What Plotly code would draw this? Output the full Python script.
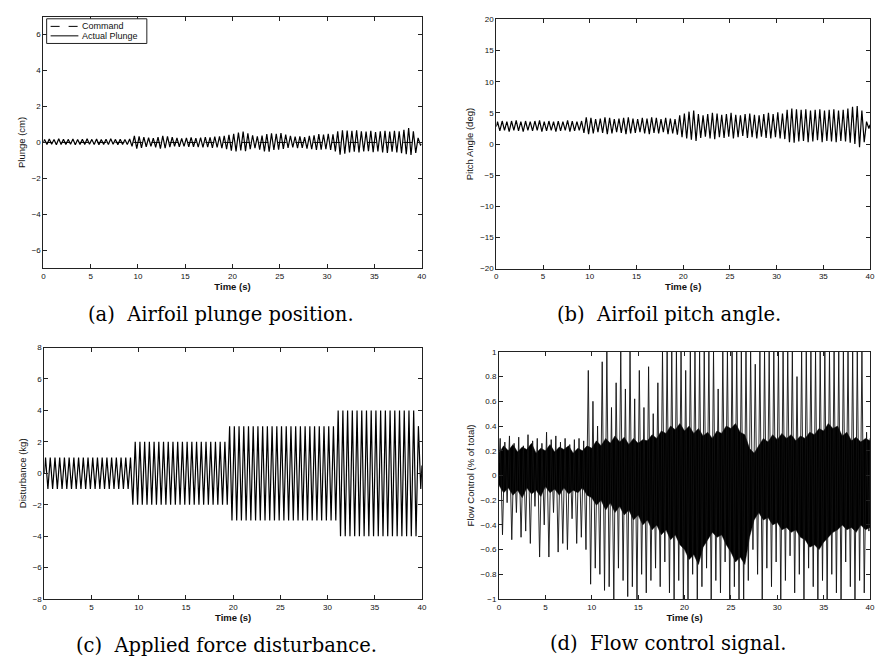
import numpy as np
import plotly.graph_objects as go

# ---------------------------------------------------------------------------
# Recorded time histories (2 Hz disturbance, 40 s run).
# Each oscillating signal is stored as its per-cycle peak and trough values;
# successive extrema are half a cycle apart.
# ---------------------------------------------------------------------------
HALF_CYCLE = 0.25          # s between successive extrema
FIRST_EXTREMUM = 0.125     # s, time of the first peak
T_END = 40.0

# (a) Airfoil plunge position (cm)
plunge_start, plunge_end = 0.02, -0.10
plunge_peaks = [
    0.17, 0.19, 0.16, 0.20, 0.18, 0.17, 0.19, 0.16, 0.18, 0.20,
    0.17, 0.19, 0.16, 0.18, 0.20, 0.17, 0.18, 0.16, 0.19,
    0.36, 0.34, 0.30, 0.26, 0.24, 0.30, 0.36, 0.34, 0.30, 0.25,
    0.22, 0.25, 0.28, 0.24, 0.27, 0.30, 0.28, 0.32, 0.34, 0.36,
    0.42, 0.48, 0.55, 0.60, 0.50, 0.40, 0.34, 0.38, 0.46, 0.50,
    0.48, 0.52, 0.44, 0.36, 0.32, 0.34, 0.30, 0.36, 0.40, 0.46,
    0.44, 0.48, 0.45,
    0.62, 0.68, 0.66, 0.64, 0.68, 0.62, 0.60, 0.64, 0.58, 0.62,
    0.65, 0.60, 0.64, 0.62, 0.70, 0.80, 0.62,
    0.25,
]
plunge_troughs = [
    -0.12, -0.10, -0.13, -0.11, -0.12, -0.10, -0.13, -0.12, -0.11, -0.10,
    -0.12, -0.13, -0.11, -0.12, -0.10, -0.13, -0.12, -0.11, -0.22,
    -0.34, -0.30, -0.24, -0.22, -0.28, -0.34, -0.32, -0.26, -0.22, -0.24,
    -0.22, -0.25, -0.24, -0.26, -0.28, -0.26, -0.30, -0.28, -0.32, -0.38,
    -0.46, -0.50, -0.44, -0.48, -0.38, -0.32, -0.40, -0.50, -0.52, -0.42,
    -0.40, -0.36, -0.30, -0.28, -0.32, -0.30, -0.34, -0.38, -0.42, -0.40,
    -0.38, -0.42, -0.50,
    -0.68, -0.62, -0.55, -0.52, -0.56, -0.50, -0.48, -0.54, -0.50, -0.56,
    -0.58, -0.52, -0.56, -0.60, -0.66, -0.70, -0.58,
    -0.15,
]
command_t = [0.0, 40.0]
command_vals = [0.0, 0.0]

# (b) Airfoil pitch angle (deg)
pitch_start, pitch_end = 2.8, 3.1
pitch_peaks = [
    3.6, 3.7, 3.6, 3.7, 3.8, 3.6, 3.7, 3.6, 3.7, 3.8,
    3.6, 3.7, 3.6, 3.7, 3.6, 3.8, 3.7, 3.6, 3.7,
    4.3, 4.2, 4.0, 4.1, 4.3, 4.2, 4.0, 4.1, 4.2, 4.3,
    4.1, 4.0, 4.2, 4.1, 4.3, 4.2, 4.0, 4.2, 4.1, 4.0,
    4.6, 4.9, 5.2, 5.4, 4.8, 4.6, 4.8, 5.0, 4.9, 4.7,
    4.8, 5.0, 4.7, 4.6, 4.8, 4.9, 4.7, 4.6, 4.8, 5.0,
    4.8, 5.1, 4.9,
    5.5, 5.7, 5.6, 5.5, 5.6, 5.4, 5.5, 5.6, 5.4, 5.5,
    5.6, 5.4, 5.5, 5.7, 6.0, 6.1, 5.4,
    3.6,
]
pitch_troughs = [
    2.1, 2.2, 2.0, 2.2, 2.1, 2.0, 2.2, 2.1, 2.2, 2.0,
    2.1, 2.2, 2.0, 2.1, 2.2, 2.0, 2.1, 2.2, 1.8,
    1.6, 1.7, 1.9, 1.8, 1.6, 1.7, 1.9, 1.8, 1.6, 1.7,
    1.8, 1.9, 1.7, 1.6, 1.8, 1.7, 1.9, 1.6, 1.7, 1.5,
    1.1, 0.9, 0.7, 0.5, 1.0, 1.2, 0.9, 0.8, 1.1, 1.0,
    1.2, 0.9, 1.1, 1.3, 1.0, 1.1, 0.9, 1.2, 1.0, 0.9,
    1.1, 0.9, 0.8,
    0.3, 0.2, 0.4, 0.5, 0.3, 0.4, 0.6, 0.3, 0.5, 0.4,
    0.3, 0.5, 0.4, 0.2, 0.0, -0.5, 0.3,
    2.5,
]

# (c) Applied force disturbance (kg)
dist_start, dist_end = 0.0, 0.5
dist_peaks = [
    1, 1, 1, 1, 1, 1, 1, 1, 1, 1,
    1, 1, 1, 1, 1, 1, 1, 1, 1,
    2, 2, 2, 2, 2, 2, 2, 2, 2, 2,
    2, 2, 2, 2, 2, 2, 2, 2, 2, 2,
    3, 3, 3, 3, 3, 3, 3, 3, 3, 3,
    3, 3, 3, 3, 3, 3, 3, 3, 3, 3,
    3, 3, 3,
    4, 4, 4, 4, 4, 4, 4, 4, 4, 4,
    4, 4, 4, 4, 4, 4, 4,
    3,
]
dist_troughs = [
    -1, -1, -1, -1, -1, -1, -1, -1, -1, -1,
    -1, -1, -1, -1, -1, -1, -1, -1, -2,
    -2, -2, -2, -2, -2, -2, -2, -2, -2, -2,
    -2, -2, -2, -2, -2, -2, -2, -2, -2, -2,
    -3, -3, -3, -3, -3, -3, -3, -3, -3, -3,
    -3, -3, -3, -3, -3, -3, -3, -3, -3, -3,
    -3, -3, -3,
    -4, -4, -4, -4, -4, -4, -4, -4, -4, -4,
    -4, -4, -4, -4, -4, -4, -4,
    -1,
]

# (d) Flow control signal (fraction of total), saturating at +/-1
flow_start, flow_end = 0.10, 0.30
flow_up = [
    0.30, 0.27, 0.32, 0.26, 0.31, 0.24, 0.33, 0.28, 0.30, 0.26,
    0.35, 0.29, 0.32, 0.27, 0.30, 0.25, 0.29, 0.30, 0.28,
    0.85, 0.60, 0.40, 0.92, 1.00, 0.55, 0.75, 1.00, 0.70, 1.00,
    0.62, 0.85, 0.55, 0.88, 0.50,
    0.75, 1.00, 1.00, 1.00, 1.00, 1.00, 0.85, 1.00, 1.00, 1.00,
    1.00, 1.00, 1.00, 0.70, 1.00, 1.00, 1.00, 1.00, 1.00, 1.00,
    1.00, 0.90, 1.00, 1.00, 1.00, 1.00, 1.00, 1.00, 1.00, 1.00,
    0.80, 1.00, 1.00, 1.00, 1.00, 1.00, 1.00, 1.00, 1.00, 1.00,
    1.00, 1.00, 1.00, 1.00, 1.00, 0.35,
]
flow_down = [
    -0.48, -0.22, -0.52, -0.30, -0.50, -0.45, -0.55, -0.25, -0.66, -0.40,
    -0.66, -0.30, -0.62, -0.55, -0.60, -0.35, -0.55, -0.50, -0.60,
    -0.88, -0.75, -0.80, -0.93, -0.90, -1.00, -0.75, -0.85, -0.98, -0.90,
    -1.00, -0.80, -0.95, -0.85, -0.75,
    -0.90, -0.70, -0.95, -1.00, -0.85, -1.00, -1.00, -0.80, -1.00, -0.90,
    -0.75, -1.00, -0.85, -0.95, -0.70, -1.00, -0.90, -1.00, -1.00, -0.85,
    -0.60, -0.80, -1.00, -0.75, -0.90, -0.70, -1.00, -0.85, -0.65, -0.95,
    -0.80, -1.00, -0.75, -0.90, -1.00, -0.85, -1.00, -0.80, -0.95, -1.00,
    -0.70, -0.90, -1.00, -0.85, -0.95, -0.45,
]
# dense core of the flow control trace, sampled every half second
flow_band_t = [0.5 * i for i in range(81)]
flow_band_hi = [
    0.18, 0.24, 0.20, 0.25, 0.19, 0.23, 0.21, 0.26, 0.18, 0.22,
    0.20, 0.25, 0.19, 0.23, 0.21, 0.24, 0.18, 0.22, 0.20, 0.24,
    0.22, 0.28, 0.24, 0.30, 0.26, 0.32, 0.27, 0.31, 0.25, 0.30,
    0.26, 0.29, 0.28, 0.33, 0.30, 0.36, 0.34, 0.40, 0.37, 0.42,
    0.36, 0.40, 0.34, 0.38, 0.32, 0.35, 0.30, 0.36, 0.34, 0.40,
    0.38, 0.42, 0.35, 0.33, 0.22, 0.18, 0.24, 0.30, 0.27, 0.33,
    0.29, 0.34, 0.30, 0.33, 0.28, 0.32, 0.30, 0.35, 0.33, 0.38,
    0.36, 0.42, 0.38, 0.40, 0.32, 0.35, 0.28, 0.31, 0.27, 0.30,
    0.28,
]
flow_band_lo = [
    -0.08, -0.14, -0.10, -0.16, -0.12, -0.18, -0.10, -0.15, -0.12, -0.17,
    -0.09, -0.14, -0.11, -0.16, -0.10, -0.15, -0.12, -0.14, -0.10, -0.16,
    -0.18, -0.24, -0.20, -0.28, -0.22, -0.30, -0.25, -0.32, -0.28, -0.36,
    -0.32, -0.40, -0.36, -0.44, -0.40, -0.48, -0.44, -0.52, -0.48, -0.56,
    -0.60, -0.68, -0.64, -0.72, -0.58, -0.52, -0.46, -0.50, -0.48, -0.56,
    -0.62, -0.70, -0.66, -0.72, -0.50, -0.36, -0.30, -0.36, -0.34, -0.40,
    -0.38, -0.44, -0.42, -0.46, -0.44, -0.50, -0.52, -0.58, -0.56, -0.60,
    -0.54, -0.50, -0.46, -0.44, -0.40, -0.44, -0.42, -0.46, -0.40, -0.44,
    -0.42,
]

# Axis ticks
time_ticks = [0, 5, 10, 15, 20, 25, 30, 35, 40]
plunge_ticks = [-6, -4, -2, 0, 2, 4, 6]
pitch_ticks = [-20, -15, -10, -5, 0, 5, 10, 15, 20]
dist_ticks = [-8, -6, -4, -2, 0, 2, 4, 6, 8]
flow_ticks = [-1, -0.8, -0.6, -0.4, -0.2, 0, 0.2, 0.4, 0.6, 0.8, 1]
flow_tick_text = ["\u22121", "\u22120.8", "\u22120.6", "\u22120.4", "\u22120.2",
                  "0", "0.2", "0.4", "0.6", "0.8", "1"]

captions = [
    "(a)  Airfoil plunge position.",
    "(b)  Airfoil pitch angle.",
    "(c)  Applied force disturbance.",
    "(d)  Flow control signal.",
]


def extrema_trace(start, peaks, troughs, end):
    """Join start value, alternating peak/trough values and end value."""
    t = [0.0]
    v = [start]
    for i, (p, q) in enumerate(zip(peaks, troughs)):
        t += [FIRST_EXTREMUM + HALF_CYCLE * (2 * i), FIRST_EXTREMUM + HALF_CYCLE * (2 * i + 1)]
        v += [p, q]
    t.append(T_END)
    v.append(end)
    return t, v


LINE = dict(color="black", width=1.2)
fig = go.Figure()

# (a) plunge
fig.add_trace(go.Scatter(x=command_t, y=command_vals, mode="lines", name="Command",
                         line=dict(color="black", width=1, dash="dash"),
                         xaxis="x", yaxis="y"))
t, v = extrema_trace(plunge_start, plunge_peaks, plunge_troughs, plunge_end)
fig.add_trace(go.Scatter(x=t, y=v, mode="lines", name="Actual Plunge", line=LINE,
                         xaxis="x", yaxis="y"))

# (b) pitch
t, v = extrema_trace(pitch_start, pitch_peaks, pitch_troughs, pitch_end)
fig.add_trace(go.Scatter(x=t, y=v, mode="lines", line=LINE, xaxis="x2", yaxis="y2"))

# (c) disturbance
t, v = extrema_trace(dist_start, dist_peaks, dist_troughs, dist_end)
fig.add_trace(go.Scatter(x=t, y=v, mode="lines", line=LINE, xaxis="x3", yaxis="y3"))

# (d) flow control: dense core then the spikes
fig.add_trace(go.Scatter(x=flow_band_t, y=flow_band_hi, mode="lines",
                         line=dict(color="black", width=0.5), xaxis="x4", yaxis="y4"))
fig.add_trace(go.Scatter(x=flow_band_t, y=flow_band_lo, mode="lines", fill="tonexty",
                         fillcolor="black", line=dict(color="black", width=0.5),
                         xaxis="x4", yaxis="y4"))
t, v = extrema_trace(flow_start, flow_up, flow_down, flow_end)
fig.add_trace(go.Scatter(x=t, y=v, mode="lines", line=dict(color="#111", width=0.9),
                         xaxis="x4", yaxis="y4"))

W, H = 881, 659
SANS = "Liberation Sans, Arial, sans-serif"
TICK_FONT = dict(family=SANS, size=8, color="#111")
XTITLE_FONT = dict(family=SANS, size=9.5, color="#111")
YTITLE_FONT = dict(family=SANS, size=9.5, color="#111")


def px_dom(a, b, total, flip=False):
    if flip:
        return [1 - b / total, 1 - a / total]
    return [a / total, b / total]


def xaxis(dom, anchor):
    return dict(domain=dom, anchor=anchor, range=[0, 40], tickvals=time_ticks,
                showline=True, linecolor="#222", linewidth=1, mirror="allticks",
                ticks="inside", ticklen=4, tickcolor="#222", showgrid=False,
                zeroline=False, tickfont=TICK_FONT,
                title=dict(text="<b>Time (s)</b>", font=XTITLE_FONT, standoff=0))


def yaxis(dom, anchor, rng, ticks, title, text=None):
    d = dict(domain=dom, anchor=anchor, range=rng, tickvals=ticks,
             showline=True, linecolor="#222", linewidth=1, mirror="allticks",
             ticks="inside", ticklen=4, tickcolor="#222", showgrid=False,
             zeroline=False, tickfont=TICK_FONT,
             title=dict(text=title, font=YTITLE_FONT, standoff=4))
    if text is not None:
        d["ticktext"] = text
    return d


layout = dict(
    width=W, height=H, margin=dict(l=0, r=0, t=0, b=0),
    paper_bgcolor="white", plot_bgcolor="white", showlegend=False,
    xaxis=xaxis(px_dom(41.7, 423.0, W), "y"),
    yaxis=yaxis(px_dom(12.7, 268.0, H, flip=True), "x", [-7, 7], plunge_ticks, "Plunge (cm)"),
    xaxis2=xaxis(px_dom(498.3, 875.0, W), "y2"),
    yaxis2=yaxis(px_dom(15.7, 268.3, H, flip=True), "x2", [-20, 20], pitch_ticks,
                 "Pitch Angle (deg)"),
    xaxis3=xaxis(px_dom(42.7, 423.3, W), "y3"),
    yaxis3=yaxis(px_dom(348.3, 603.3, H, flip=True), "x3", [-8, 8], dist_ticks,
                 "Disturbance (kg)"),
    xaxis4=xaxis(px_dom(501.0, 875.0, W), "y4"),
    yaxis4=yaxis(px_dom(352.7, 603.3, H, flip=True), "x4", [-1, 1], flow_ticks,
                 "Flow Control (% of total)", flow_tick_text),
)
fig.update_layout(**layout)

# Compact boxed key in the top-left corner of the plunge axes
def px(xp, yp):
    return xp / W, 1 - yp / H

bx0, by0 = px(45, 15)
bx1, by1 = px(146, 40)
fig.add_shape(type="rect", xref="paper", yref="paper", x0=bx0, y0=by1, x1=bx1, y1=by0,
              line=dict(color="#222", width=1), fillcolor="white", layer="above")
key_rows = [("Command", "dash", 22.7), ("Actual Plunge", "solid", 32.3)]
for label, dash, yp in key_rows:
    lx0, ly = px(49, yp)
    lx1, _ = px(77, yp)
    fig.add_shape(type="line", xref="paper", yref="paper", x0=lx0, y0=ly, x1=lx1, y1=ly,
                  line=dict(color="black", width=1, dash=dash), layer="above")
    tx, _ = px(79, yp)
    fig.add_annotation(text=label, x=tx, y=ly, xref="paper", yref="paper",
                       xanchor="left", yanchor="middle", showarrow=False,
                       font=dict(family=SANS, size=9, color="#111"))

cap_pos = [(221, 315), (672.5, 315), (226, 650), (671, 648)]
for text, (cx, cy) in zip(captions, cap_pos):
    cxp, cyp = px(cx, cy)
    fig.add_annotation(text=text, x=cxp, y=cyp, xref="paper", yref="paper",
                       xanchor="center", yanchor="middle", showarrow=False,
                       font=dict(family="DejaVu Serif, serif", size=19.5, color="black"))

fig.write_html("out.html")
